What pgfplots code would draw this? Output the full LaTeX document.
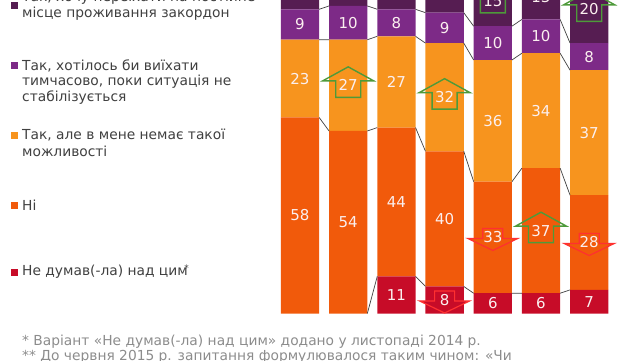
\documentclass[border=0pt]{standalone}
\usepackage{pgfplots}
\pgfplotsset{compat=1.18}
\usepackage{fontspec}
\setmainfont{DejaVu Sans}
\definecolor{cdark}{HTML}{561D52}
\definecolor{cpurp}{HTML}{7D2A87}
\definecolor{clor}{HTML}{F7941E}
\definecolor{cor}{HTML}{F15A0B}
\definecolor{cred}{HTML}{C70C28}
\definecolor{ctxt}{HTML}{404040}
\definecolor{cfoot}{HTML}{8C8C8C}
\definecolor{cgreen}{HTML}{4E9A3A}
\definecolor{carrred}{HTML}{FF3030}
\definecolor{clab}{HTML}{FBEFEF}
\definecolor{cline}{HTML}{404040}
\newcommand\uparr[2]{\draw[cgreen, line width=1.4pt, line join=miter] (axis cs:#1,#2) ++(-12.5pt,-12pt) -- ++(0pt,16.5pt) -- ++(-13pt,0pt) -- ++(25.5pt,14pt) -- ++(25.5pt,-14pt) -- ++(-13pt,0pt) -- ++(0pt,-16.5pt) -- cycle;}
\newcommand\downarr[3]{\draw[carrred, line width=1.2pt, line join=miter, fill=#3] (axis cs:#1,#2) ++(-10pt,9pt) -- ++(0pt,-10pt) -- ++(-15pt,0pt) -- ++(25pt,-12pt) -- ++(25pt,12pt) -- ++(-15pt,0pt) -- ++(0pt,10pt) -- cycle;}
\pgfplotsset{commonax/.style={
  at={(275.9pt,46.5pt)}, anchor=south west,
  scale only axis, width=337.4pt, height=338pt,
  xmin=-0.5, xmax=6.5, ymin=0, ymax=100,
  axis lines=none, ticks=none, clip=false}}
\begin{document}
\begin{tikzpicture}[x=1pt,y=1pt]
\path[use as bounding box] (0pt,0pt) rectangle (640pt,360pt);
\clip (0pt,0pt) rectangle (640pt,360pt);
\begin{axis}[commonax, ybar stacked, bar width=38.3pt]
\addplot[fill=cred, draw=none] coordinates {(0,0) (1,0) (2,11) (3,8) (4,6) (5,6) (6,7)};
\addplot[fill=cor, draw=none] coordinates {(0,58) (1,54) (2,44) (3,40) (4,33) (5,37) (6,28)};
\addplot[fill=clor, draw=none] coordinates {(0,23) (1,27) (2,27) (3,32) (4,36) (5,34) (6,37)};
\addplot[fill=cpurp, draw=none] coordinates {(0,9) (1,10) (2,8) (3,9) (4,10) (5,10) (6,8)};
\addplot[fill=cdark, draw=none] coordinates {(0,10) (1,9) (2,10) (3,11) (4,15) (5,13) (6,20)};
\end{axis}
\begin{axis}[commonax, unbounded coords=jump]
% series lines
\addplot[cline, line width=0.7pt, mark=none] coordinates {(1.397,0) (1.603,11) (2,nan) (2.397,11) (2.603,8) (3,nan) (3.397,8) (3.603,6) (4,nan) (4.397,6) (4.603,6) (5,nan) (5.397,6) (5.603,7)};
\addplot[cline, line width=0.7pt, mark=none] coordinates {(0.397,58) (0.603,54) (1,nan) (1.397,54) (1.603,55) (2,nan) (2.397,55) (2.603,48) (3,nan) (3.397,48) (3.603,39) (4,nan) (4.397,39) (4.603,43) (5,nan) (5.397,43) (5.603,35)};
\addplot[cline, line width=0.7pt, mark=none] coordinates {(0.397,81) (0.603,81) (1,nan) (1.397,81) (1.603,82) (2,nan) (2.397,82) (2.603,80) (3,nan) (3.397,80) (3.603,75) (4,nan) (4.397,75) (4.603,77) (5,nan) (5.397,77) (5.603,72)};
\addplot[cline, line width=0.7pt, mark=none] coordinates {(0.397,90) (0.603,91) (1,nan) (1.397,91) (1.603,90) (2,nan) (2.397,90) (2.603,89) (3,nan) (3.397,89) (3.603,85) (4,nan) (4.397,85) (4.603,87) (5,nan) (5.397,87) (5.603,80)};
% arrows
\uparr{1}{67.5}
\uparr{3}{64}
\uparr{4}{92.5}
\uparr{5}{24.5}
\uparr{6}{90}
\downarr{3}{4}{cred}
\downarr{4}{22.5}{cor}
\downarr{6}{21}{cor}
% labels
\addplot[draw=none, mark=none, nodes near coords, point meta=explicit symbolic,
  every node near coord/.style={anchor=center, text=clab, font=\fontsize{15}{15}\selectfont, inner sep=0pt}]
  table[meta=lab] {
x y lab
0 29 58
0 69.5 23
0 85.5 9
0 95 10
1 27 54
1 67.5 27
1 86 10
1 95.5 9
2 5.5 11
2 33 44
2 68.5 27
2 86 8
2 95 10
3 4 8
3 28 40
3 64 32
3 84.5 9
3 94.5 11
4 3 6
4 22.5 33
4 57 36
4 80 10
4 92.5 15
5 3 6
5 24.5 37
5 60 34
5 82 10
5 93.5 13
6 3.5 7
6 21 28
6 53.5 37
6 76 8
6 90 20
};
\end{axis}
% legend
\begin{scope}[font=\fontsize{13.8}{16.2}\selectfont, text=ctxt]
\fill[cdark] (11pt,358.5pt) rectangle ++(7pt,-7pt);
\node[anchor=west, inner sep=0pt, text=ctxt] at (22pt,362pt) {Так, хочу переїхати на постійне};
\node[anchor=west, inner sep=0pt, text=ctxt] at (22pt,346pt) {місце проживання закордон};
\fill[cpurp] (11pt,298pt) rectangle ++(7pt,-7pt);
\node[anchor=west, inner sep=0pt, text=ctxt] at (22pt,294.5pt) {Так, хотілось би виїхати};
\node[anchor=west, inner sep=0pt, text=ctxt] at (22pt,278.5pt) {тимчасово, поки ситуація не};
\node[anchor=west, inner sep=0pt, text=ctxt] at (22pt,262.5pt) {стабілізується};
\fill[clor] (11pt,228.5pt) rectangle ++(7pt,-7pt);
\node[anchor=west, inner sep=0pt, text=ctxt] at (22pt,225pt) {Так, але в мене немає такої};
\node[anchor=west, inner sep=0pt, text=ctxt] at (22pt,208.5pt) {можливості};
\fill[cor] (11pt,158.5pt) rectangle ++(7pt,-7pt);
\node[anchor=west, inner sep=0pt, text=ctxt] at (22pt,155pt) {Ні};
\fill[cred] (11pt,91.5pt) rectangle ++(7pt,-7pt);
\node[anchor=west, inner sep=0pt, text=ctxt] at (22pt,88pt) {Не думав(-ла) над цим\kern-3.5pt\raisebox{4pt}{\fontsize{9}{9}\selectfont*}};
\node[anchor=west, inner sep=0pt, text=cfoot] at (22pt,18pt) {* Варіант «Не думав(-ла) над цим» додано у листопаді 2014 р.};
\node[anchor=west, inner sep=0pt, text=cfoot] at (22pt,3.5pt) {** До червня 2015 р. запитання формулювалося таким чином: «Чи};
\end{scope}
\end{tikzpicture}
\end{document}
